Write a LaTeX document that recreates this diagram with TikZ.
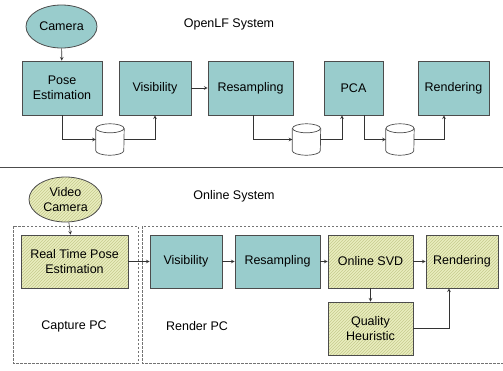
\documentclass[tikz,border=0pt]{standalone}
\usepackage{fontspec}
\setmainfont{Liberation Sans}
\usetikzlibrary{shapes.geometric,patterns}
\definecolor{tealbox}{HTML}{99CCCC}
\definecolor{olivebg}{HTML}{E9EDBE}
\definecolor{olivehatch}{HTML}{C6CB8E}
\begin{document}
\begin{tikzpicture}[>=stealth,x=1pt,y=-1pt,font=\fontsize{12.5}{14.5}\selectfont,
  stage/.style={draw=black!70,line width=0.8pt,fill=tealbox,inner sep=0pt,align=center,minimum height=54pt},
  newstage/.style={draw=black!70,line width=0.8pt,preaction={fill=olivebg},pattern=north east lines,pattern color=olivehatch,inner sep=0pt,align=center,minimum height=53pt},
  store/.style={inner sep=0pt,minimum width=28pt,minimum height=31pt},
  link/.style={->,draw=black!80,line width=0.6pt},
  pcbox/.style={draw=black!55,line width=0.7pt,dash pattern=on 2.5pt off 1.5pt}]
\useasboundingbox (0,0) rectangle (503,370);
% OpenLF system
\node at (229,24) (titleA) {OpenLF System};
\node[ellipse,draw=black!70,line width=0.8pt,fill=tealbox,minimum width=71pt,minimum height=43pt,inner sep=0pt] (cam) at (61.5,26.5) {Camera};
\node[stage,minimum width=80pt] (pose) at (62,88) {Pose\\Estimation};
\node[stage,minimum width=72pt] (vis) at (155,88) {Visibility};
\node[stage,minimum width=85pt] (res) at (250.5,88) {Resampling};
\node[stage,minimum width=59pt] (pca) at (353.5,88) {PCA};
\node[stage,minimum width=71pt] (rend) at (453.5,88) {Rendering};
\node[store] (dbA) at (110,139.5) {};
\node[store] (dbB) at (306.5,139.5) {};
\node[store] (dbC) at (400,139.5) {};
\foreach \d in {dbA,dbB,dbC} {
  \draw[draw=black!70,line width=0.7pt,fill=white] ([yshift=-4.5pt]\d.north west) -- ([yshift=4.5pt]\d.south west)
    arc[start angle=180,end angle=360,x radius=14pt,y radius=4.5pt] -- ([yshift=-4.5pt]\d.north east);
  \draw[draw=black!70,line width=0.7pt,fill=white] ([yshift=-4.5pt]\d.north) ellipse[x radius=14pt,y radius=4.5pt];
}
\draw[link] (cam) -- (pose);
\draw[link] (vis) -- (res);
\draw[link] (pose.south) |- (dbA.west);
\draw[link] (dbA.east) -| (vis.south);
\draw[link] ([xshift=2.5pt]res.south) |- (dbB.west);
\draw[link] (dbB.east) -| ([xshift=-11.5pt]pca.south);
\draw[link] ([xshift=10.5pt]pca.south) |- (dbC.west);
\draw[link] (dbC.east) -| ([xshift=-9.5pt]rend.south);
\draw[black!70,line width=0.8pt] (0,167) -- (503,167);
% online system
\node at (234,196) (titleB) {Online System};
\draw[pcbox] (13,226) rectangle (138,363);
\draw[pcbox] (142,226) rectangle (515,363);
\node at (74,326) (capPC) {Capture PC};
\node at (197,326) (renPC) {Render PC};
\node[ellipse,draw=black!70,line width=0.8pt,preaction={fill=olivebg},pattern=north east lines,pattern color=olivehatch,minimum width=73pt,minimum height=45pt,inner sep=0pt,align=center] (vcam) at (65.5,199.5) {Video\\Camera};
\node[newstage,minimum width=107pt] (rtpe) at (74.5,261.5) {Real Time Pose\\Estimation};
\node[stage,minimum width=72pt,minimum height=53pt] (visB) at (186,261.5) {Visibility};
\node[stage,minimum width=85pt,minimum height=53pt] (resB) at (277.5,261.5) {Resampling};
\node[newstage,minimum width=85pt] (svd) at (370.5,261.5) {Online SVD};
\node[newstage,minimum width=72pt] (rendB) at (462,261.5) {Rendering};
\node[newstage,minimum width=85pt] (qual) at (370.5,328.5) {Quality\\Heuristic};
\draw[link] (vcam) -- (rtpe);
\draw[link] (rtpe) -- (visB);
\draw[link] (visB) -- (resB);
\draw[link] (resB) -- (svd);
\draw[link] (svd) -- (rendB);
\draw[link] (svd) -- (qual);
\draw[link] (qual.east) -| ([xshift=-13pt]rendB.south);
\end{tikzpicture}
\end{document}
